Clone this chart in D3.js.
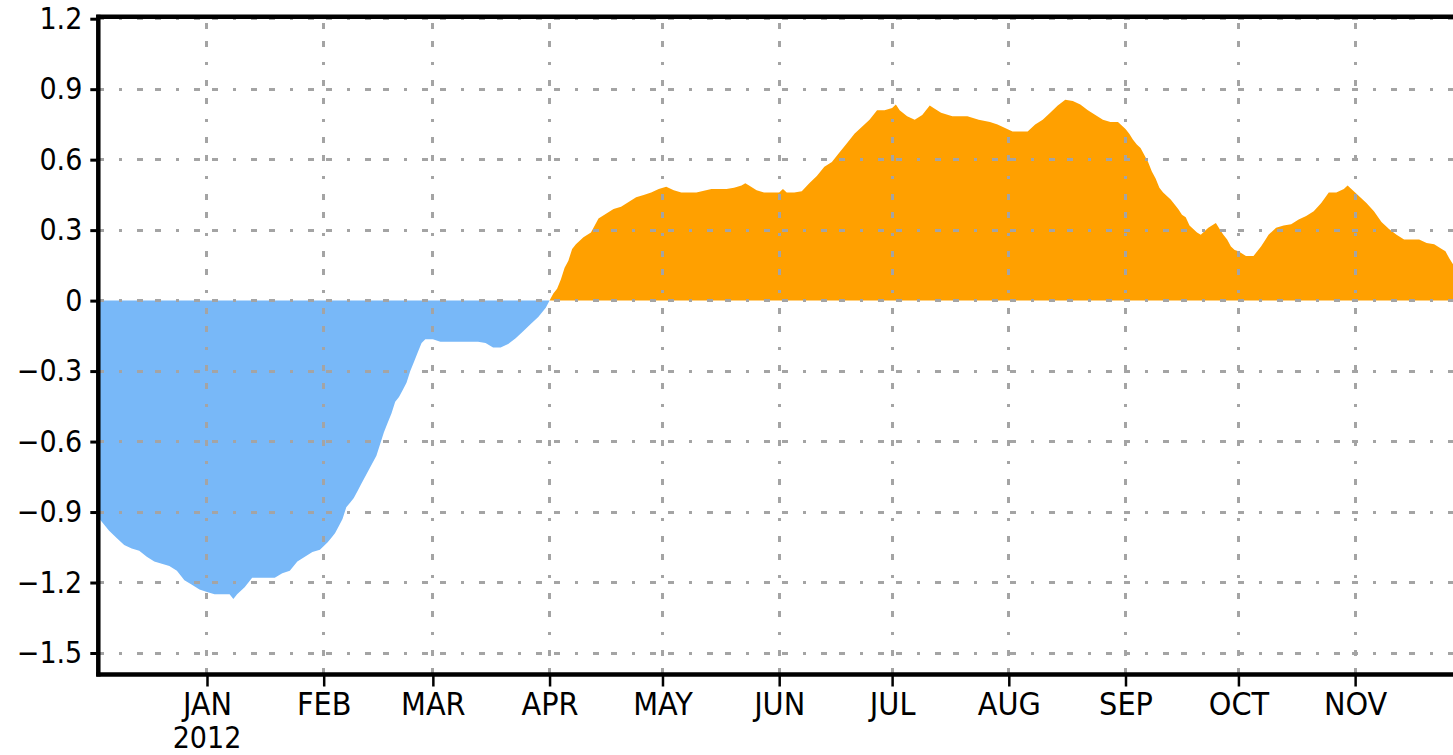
<!DOCTYPE html>
<html>
<head>
<meta charset="utf-8">
<script src="https://cdn.jsdelivr.net/npm/d3@7"></script>
<style>
  html, body { margin: 0; padding: 0; background: #fff; overflow: hidden; }
  svg { display: block; }
  .tick text { font-family: "DejaVu Sans Condensed", "DejaVu Sans", sans-serif; fill: #000; }
</style>
</head>
<body>
<svg id="chart" width="1453" height="755"></svg>
<script>
// daily index values
var dates = [
  "2011-12-03","2011-12-04","2011-12-06","2011-12-08","2011-12-10","2011-12-12","2011-12-14","2011-12-16",
  "2011-12-18","2011-12-20","2011-12-22","2011-12-24","2011-12-26","2011-12-28","2011-12-30",
  "2012-01-01","2012-01-03","2012-01-05","2012-01-07","2012-01-08","2012-01-09","2012-01-11","2012-01-13",
  "2012-01-15","2012-01-17","2012-01-19","2012-01-21","2012-01-23","2012-01-25","2012-01-27","2012-01-29","2012-01-31",
  "2012-02-02","2012-02-03","2012-02-04","2012-02-05","2012-02-06","2012-02-07","2012-02-08","2012-02-09",
  "2012-02-10","2012-02-11","2012-02-12","2012-02-13","2012-02-14","2012-02-15","2012-02-16","2012-02-17",
  "2012-02-18","2012-02-19","2012-02-20","2012-02-21","2012-02-22","2012-02-23","2012-02-24","2012-02-25",
  "2012-02-26","2012-02-27","2012-02-28",
  "2012-03-01","2012-03-03","2012-03-05","2012-03-09","2012-03-13","2012-03-15","2012-03-17","2012-03-19",
  "2012-03-21","2012-03-23","2012-03-25","2012-03-27","2012-03-29","2012-03-31",
  "2012-04-01","2012-04-02","2012-04-03","2012-04-04","2012-04-05","2012-04-06","2012-04-07","2012-04-08",
  "2012-04-10","2012-04-12","2012-04-14","2012-04-16","2012-04-18","2012-04-20","2012-04-22","2012-04-24",
  "2012-04-26","2012-04-28","2012-04-30",
  "2012-05-02","2012-05-04","2012-05-06","2012-05-10","2012-05-14","2012-05-18","2012-05-20","2012-05-22",
  "2012-05-23","2012-05-24","2012-05-26","2012-05-28",
  "2012-06-01","2012-06-02","2012-06-03","2012-06-05","2012-06-07","2012-06-09","2012-06-11","2012-06-13",
  "2012-06-15","2012-06-17","2012-06-19","2012-06-21","2012-06-23","2012-06-25","2012-06-27","2012-06-29",
  "2012-07-01","2012-07-02","2012-07-03","2012-07-05","2012-07-07","2012-07-09","2012-07-10","2012-07-11",
  "2012-07-12","2012-07-14","2012-07-17","2012-07-21","2012-07-24","2012-07-27","2012-07-29","2012-07-31",
  "2012-08-02","2012-08-06","2012-08-08","2012-08-10","2012-08-12","2012-08-14","2012-08-16","2012-08-18",
  "2012-08-20","2012-08-22","2012-08-24","2012-08-26","2012-08-28","2012-08-30",
  "2012-09-01","2012-09-02","2012-09-03","2012-09-04","2012-09-05","2012-09-06","2012-09-07","2012-09-08",
  "2012-09-09","2012-09-10","2012-09-11","2012-09-13","2012-09-15","2012-09-16","2012-09-17","2012-09-18",
  "2012-09-19","2012-09-20","2012-09-21","2012-09-23","2012-09-25","2012-09-26","2012-09-27","2012-09-28",
  "2012-09-29","2012-09-30",
  "2012-10-01","2012-10-03","2012-10-05","2012-10-06","2012-10-07","2012-10-08","2012-10-09","2012-10-11",
  "2012-10-13","2012-10-15","2012-10-17","2012-10-19","2012-10-21","2012-10-23","2012-10-25","2012-10-27",
  "2012-10-29","2012-10-30","2012-10-31",
  "2012-11-02","2012-11-04","2012-11-06","2012-11-08","2012-11-10","2012-11-12","2012-11-14","2012-11-18",
  "2012-11-20","2012-11-22","2012-11-24","2012-11-25","2012-11-26","2012-11-27"
];

var values = [
  -0.92,-0.94,-0.98,-1.01,-1.04,-1.055,-1.065,-1.09,
  -1.11,-1.12,-1.13,-1.15,-1.19,-1.21,-1.23,
  -1.24,-1.25,-1.25,-1.25,-1.27,-1.25,-1.22,-1.18,
  -1.18,-1.18,-1.18,-1.16,-1.15,-1.11,-1.09,-1.07,-1.06,
  -1.03,-1.01,-0.99,-0.96,-0.93,-0.88,-0.86,-0.84,
  -0.81,-0.78,-0.75,-0.72,-0.69,-0.66,-0.61,-0.56,
  -0.52,-0.48,-0.43,-0.41,-0.38,-0.35,-0.30,-0.26,
  -0.22,-0.18,-0.165,
  -0.165,-0.175,-0.175,-0.175,-0.175,-0.18,-0.20,-0.20,
  -0.185,-0.16,-0.13,-0.10,-0.07,-0.03,
  0.0,0.03,0.05,0.09,0.14,0.17,0.22,0.24,
  0.27,0.29,0.35,0.37,0.39,0.40,0.42,0.44,
  0.45,0.46,0.475,
  0.485,0.47,0.46,0.46,0.475,0.475,0.48,0.49,
  0.50,0.49,0.47,0.46,
  0.46,0.475,0.46,0.46,0.465,0.50,0.53,0.57,
  0.59,0.63,0.67,0.71,0.74,0.77,0.81,0.81,
  0.82,0.835,0.81,0.785,0.77,0.79,0.81,0.83,
  0.82,0.80,0.785,0.785,0.77,0.76,0.75,0.735,
  0.72,0.72,0.75,0.77,0.80,0.83,0.855,0.85,
  0.835,0.81,0.79,0.77,0.76,0.76,
  0.73,0.71,0.685,0.665,0.65,0.62,0.59,0.55,
  0.52,0.48,0.46,0.43,0.39,0.365,0.355,0.32,
  0.305,0.29,0.28,0.31,0.33,0.305,0.28,0.26,
  0.23,0.215,
  0.21,0.19,0.19,0.21,0.23,0.255,0.28,0.31,
  0.32,0.325,0.345,0.36,0.38,0.415,0.46,0.46,
  0.475,0.49,0.475,
  0.445,0.415,0.38,0.335,0.305,0.28,0.26,0.26,
  0.245,0.24,0.22,0.21,0.18,0.155
];

var yTicks = [1.2, 0.9, 0.6, 0.3, 0, -0.3, -0.6, -0.9, -1.2, -1.5];
var yTickLabels = ["1.2", "0.9", "0.6", "0.3", "0", "\u22120.3", "\u22120.6", "\u22120.9", "\u22121.2", "\u22121.5"];
var monthTicks = ["2012-01-01","2012-02-01","2012-03-01","2012-04-01","2012-05-01","2012-06-01",
                  "2012-07-01","2012-08-01","2012-09-01","2012-10-01","2012-11-01"];
var monthLabels = ["JAN","FEB","MAR","APR","MAY","JUN","JUL","AUG","SEP","OCT","NOV"];
var yearLabel = "2012";

(function () {
  var parse = d3.utcParse("%Y-%m-%d");
  var data = dates.map(function (d, i) {
    return { date: parse(d), value: values[i] };
  });
  var monthDates = monthTicks.map(parse);

  var svg = d3.select("#chart");

  var plotLeft = 98.3, plotRight = 1453, plotTop = 16.7, plotBottom = 674.5;

  var x = d3.scaleUtc()
    .domain([new Date(Date.UTC(2011, 11, 3, 3)), new Date(Date.UTC(2012, 10, 27))])
    .range([plotLeft, plotRight]);

  var y = d3.scaleLinear()
    .domain([-1.5, 1.2])
    .range([653, 18.7]);

  svg.append("defs").append("clipPath")
    .attr("id", "plot-clip")
    .append("rect")
    .attr("x", plotLeft).attr("y", plotTop)
    .attr("width", plotRight - plotLeft).attr("height", plotBottom - plotTop);

  var plot = svg.append("g").attr("clip-path", "url(#plot-clip)");

  var negArea = d3.area()
    .x(function (d) { return x(d.date); })
    .y0(y(0))
    .y1(function (d) { return y(Math.min(d.value, 0)); });

  var posArea = d3.area()
    .x(function (d) { return x(d.date); })
    .y0(y(0))
    .y1(function (d) { return y(Math.max(d.value, 0)); });

  plot.append("path").attr("d", negArea(data)).attr("fill", "#78b8f8");
  plot.append("path").attr("d", posArea(data)).attr("fill", "#ffa000");

  // dotted grey grid over the fills
  var grid = plot.append("g")
    .attr("stroke", "#a4a4a4")
    .attr("stroke-width", 3)
    .attr("stroke-dasharray", "6,12,6,15,3,15")
    .attr("shape-rendering", "crispEdges");

  grid.selectAll("line.h")
    .data(yTicks)
    .enter()
    .append("line")
    .attr("class", "h")
    .attr("x1", plotLeft).attr("x2", plotRight)
    .attr("y1", function (d) { return y(d); })
    .attr("y2", function (d) { return y(d); })
    .attr("stroke-dashoffset", 18);

  grid.selectAll("line.v")
    .data(monthDates)
    .enter()
    .append("line")
    .attr("class", "v")
    .attr("y1", plotTop).attr("y2", plotBottom)
    .attr("x1", function (d) { return x(d); })
    .attr("x2", function (d) { return x(d); })
    .attr("stroke-dashoffset", 51);

  // axes
  var yAxis = d3.axisLeft(y)
    .tickValues(yTicks)
    .tickSize(8)
    .tickPadding(8)
    .tickFormat(function (d, i) { return yTickLabels[i]; });

  var gy = svg.append("g")
    .attr("transform", "translate(" + plotLeft + ",0)")
    .call(yAxis);
  gy.select(".domain").remove();
  gy.selectAll(".tick line").attr("stroke", "#000").attr("stroke-width", 3);
  gy.selectAll(".tick text").style("font-size", "30px");

  var xAxis = d3.axisBottom(x)
    .tickValues(monthDates)
    .tickSize(12)
    .tickPadding(6)
    .tickFormat(function (d, i) { return monthLabels[i]; });

  var gx = svg.append("g")
    .attr("transform", "translate(0," + plotBottom + ")")
    .call(xAxis);
  gx.select(".domain").remove();
  gx.selectAll(".tick line").attr("stroke", "#000").attr("stroke-width", 2.5);
  gx.selectAll(".tick text").style("font-size", "32px");

  svg.append("text")
    .attr("x", x(monthDates[0]))
    .attr("y", 748)
    .attr("text-anchor", "middle")
    .style("font-family", "'DejaVu Sans Condensed', 'DejaVu Sans', sans-serif")
    .style("font-size", "30px")
    .text(yearLabel);

  // frame lines
  var frame = svg.append("g").attr("stroke", "#000").attr("stroke-width", 4.5);
  frame.append("line").attr("x1", plotLeft - 2).attr("x2", plotRight).attr("y1", plotTop).attr("y2", plotTop);
  frame.append("line").attr("x1", plotLeft - 2).attr("x2", plotRight).attr("y1", plotBottom).attr("y2", plotBottom);
  frame.append("line").attr("x1", plotLeft).attr("x2", plotLeft).attr("y1", plotTop - 2).attr("y2", plotBottom + 2);
})();
</script>
</body>
</html>
